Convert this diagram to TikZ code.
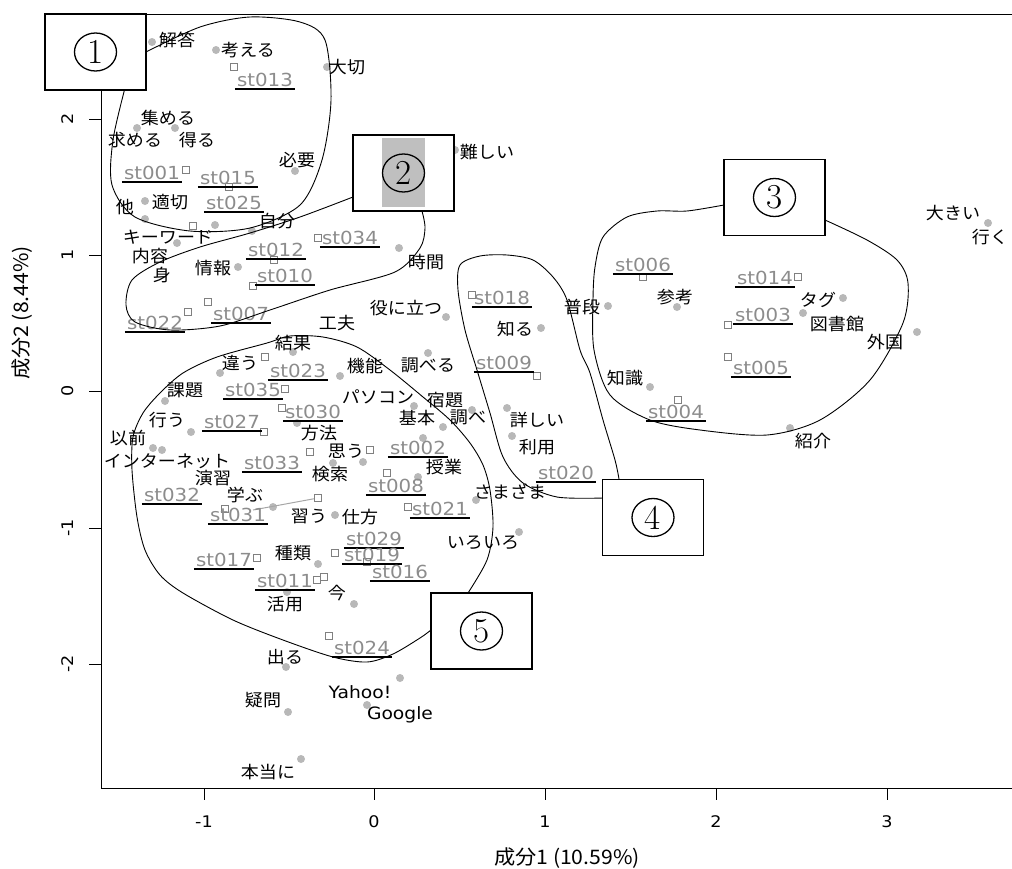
\documentclass[tikz,border=0pt]{standalone}
\usepackage{fontspec}
\newfontfamily\jpfont[FakeStretch=1.06]{Noto Sans CJK JP}
\newfontfamily\stfont[FakeStretch=1.1]{DejaVu Sans}
\usetikzlibrary{shapes.geometric}
\definecolor{dotgray}{gray}{0.72}
\definecolor{stgray}{gray}{0.55}
\tikzset{
  word/.style={font=\jpfont\fontsize{17}{17}\selectfont, inner sep=0pt},
  latin/.style={font=\stfont\fontsize{17}{17}\selectfont, inner sep=0pt},
  stu/.style={font=\stfont\fontsize{18}{18}\selectfont, text=stgray, inner sep=0pt},
  uline/.style={line width=1.6pt},
  wdot/.style={circle, fill=dotgray, inner sep=0pt, minimum size=8pt},
  sq/.style={draw=gray, line width=1pt, inner sep=0pt, minimum size=7pt},
  grp/.style={line width=0.9pt},
  numbox/.style={draw, line width=1.8pt, fill=white, minimum width=101pt, minimum height=76pt, inner sep=0pt},
  circnum/.style={ellipse, draw, line width=1.3pt, minimum width=42pt, minimum height=38pt, inner sep=0pt, font=\fontsize{35}{35}\selectfont},
  tick/.style={line width=1pt},
  ticklab/.style={font=\stfont\fontsize{16}{16}\selectfont},
  axlab/.style={font=\jpfont\fontsize{20}{20}\selectfont},
}
\begin{document}
\begin{tikzpicture}[x=1pt,y=-1pt]
\useasboundingbox (0,0) rectangle (1012,868);
% frame and axes
\draw[line width=1pt] (1014,14) -- (101,14) -- (101,788) -- (1014,788);
\foreach \v/\px [count=\i] in {-1/204,0/374,1/545,2/716,3/887} {
  \draw[tick] (\px,788) -- (\px,800);
  \node[ticklab] (xt\i) at (\px,822) {\v};
}
\foreach \v/\py [count=\i] in {2/119,1/255,0/391,-1/528,-2/664} {
  \draw[tick] (89,\py) -- (101,\py);
  \node[ticklab, rotate=90] (yt\i) at (68,\py) {\v};
}
\node[axlab] (xlab) at (567,858) {成分1 (10.59\%)};
\node[axlab, rotate=90] (ylab) at (22,313) {成分2 (8.44\%)};
% words
\foreach \x/\y [count=\i] in {152/42, 216/50, 327/67, 137/128, 175/128, 295/171, 145/201, 145/219, 252/231, 215/225, 177/243, 238/267, 455/150, 399/248, 446/317, 541/328, 608/306, 677/307, 988/223, 843/298, 803/313, 917/332, 790/428, 650/387, 293/352, 220/373, 340/376, 165/401, 191/432, 297/423, 153/448, 162/450, 333/463, 363/462, 273/507, 335/515, 428/353, 414/406, 443/427, 472/410, 507/408, 512/436, 423/438, 418/477, 476/500, 519/532, 318/564, 287/592, 354/604, 286/667, 400/678, 288/712, 367/705, 301/759}
  \node[wdot] (d\i) at (\x,\y) {};
% students
\coordinate (lnstart) at (253,510);
\node[sq] (qln) at (318,498) {};
\draw[gray!70, line width=1pt] (lnstart) -- (qln);
\foreach \x/\y [count=\i] in {234/67, 186/170, 229/187, 193/226, 274/260, 253/286, 318/238, 208/302, 188/312, 472/295, 643/277, 798/277, 728/325, 728/357, 678/400, 537/376, 265/357, 285/389, 264/432, 282/408, 310/452, 370/450, 387/473, 408/507, 225/509, 257/558, 335/553, 367/562, 317/580, 324/577, 329/636}
  \node[sq] (q\i) at (\x,\y) {};
\foreach \x/\y/\t [count=\i] in {177/40/解答, 248/50/考える, 347/67/大切, 168/118/集める, 135/140/求める, 197/140/得る, 297/160/必要, 125/207/他, 170/202/適切, 277/221/自分, 168/237/キーワード, 150/256/内容, 162/275/身, 213/268/情報, 487/152/難しい, 426/262/時間, 406/308/役に立つ, 337/323/工夫, 515/329/知る, 582/307/普段, 675/297/参考, 953/213/大きい, 990/237/行く, 818/300/タグ, 837/324/図書館, 885/342/外国, 813/441/紹介, 625/378/知識, 293/343/結果, 240/363/違う, 365/366/機能, 428/365/調べる, 185/390/課題, 378/397/パソコン, 445/400/宿題, 417/418/基本, 468/417/調べ, 537/420/詳しい, 167/420/行う, 319/433/方法, 128/438/以前, 537/447/利用, 346/451/思う, 167/461/インターネット, 444/467/授業, 330/474/検索, 213/478/演習, 510/492/さまざま, 245/495/学ぶ, 309/516/習う, 360/517/仕方, 483/543/いろいろ, 293/553/種類, 285/604/活用, 337/593/今, 285/657/出る, 263/700/疑問, 268/772/本当に}
  \node[word] (w\i) at (\x,\y) {\t};
\node[latin] (yahoo) at (360,692) {Yahoo!};
\node[latin] (google) at (400,715) {Google};
\foreach \x/\y/\t in {265/80/st013, 152/173/st001, 228/178/st015, 234/203/st025, 276/250/st012, 285/276/st010, 350/238/st034, 241/314/st007, 155/323/st022, 502/298/st018, 643/265/st006, 765/278/st014, 763/315/st003, 761/368/st005, 676/412/st004, 504/363/st009, 298/371/st023, 253/390/st035, 232/422/st027, 313/412/st030, 272/463/st033, 418/448/st002, 396/486/st008, 566/473/st020, 172/495/st032, 238/515/st031, 440/509/st021, 374/539/st029, 372/555/st019, 224/560/st017, 400/572/st016, 285/581/st011, 362/648/st024} {
  \node[stu] (\t) at (\x,\y) {\t};
  \draw[uline] ([xshift=-2pt,yshift=-2.5pt]\t.base west) -- ([xshift=2pt,yshift=-2.5pt]\t.base east);
}
% groups
\draw[grp] plot[smooth] coordinates {(146,52) (200,27) (250,17) (300,22) (325,40) (331,100) (322,160) (300,205) (250,228) (190,231) (135,217) (112,185) (113,140) (125,88)};
\draw[grp] plot[smooth] coordinates {(353,197) (300,217) (250,233) (200,247) (160,262) (132,280) (126,305) (135,322) (170,330) (220,326) (270,310) (330,290) (395,272) (420,248) (425,228) (422,211)};
\draw[grp] plot[smooth] coordinates {(724,205) (687,211) (657,211) (627,217) (603,237) (595,267) (593,300) (594,350) (610,395) (650,420) (700,430) (767,435) (820,420) (870,380) (903,323) (908,283) (897,260) (867,240) (825,220)};
\draw[grp] plot[smooth] coordinates {(603,498) (557,497) (523,483) (503,457) (490,413) (477,370) (465,330) (458,290) (460,265) (480,256) (507,255) (533,260) (553,277) (567,300) (580,350) (590,373) (603,420) (615,460) (619,479)};
\draw[grp] plot[smooth] coordinates {(468,593) (487,560) (493,527) (490,490) (483,465) (470,443) (450,420) (423,397) (390,370) (357,347) (323,337) (290,336) (267,343) (217,357) (183,373) (160,393) (143,413) (133,437) (132,470) (137,517) (145,550) (160,575) (183,593) (233,620) (283,640) (333,657) (367,662) (393,654) (420,638) (431,630)};
% numbered boxes
\node[numbox] (b1) at (95.5,52) {};
\node[circnum] (c1) at (b1) {1};
\node[numbox] (b2) at (403.5,173) {};
\fill[black!25] (382,138) rectangle (425,207);
\node[circnum] (c2) at (b2) {2};
\node[numbox] (b3) at (774.5,197.5) {};
\node[circnum] (c3) at (b3) {3};
\node[numbox] (b4) at (653,517.5) {};
\node[circnum] (c4) at (b4) {4};
\node[numbox] (b5) at (481.5,631) {};
\node[circnum] (c5) at (b5) {5};
\end{tikzpicture}
\end{document}
